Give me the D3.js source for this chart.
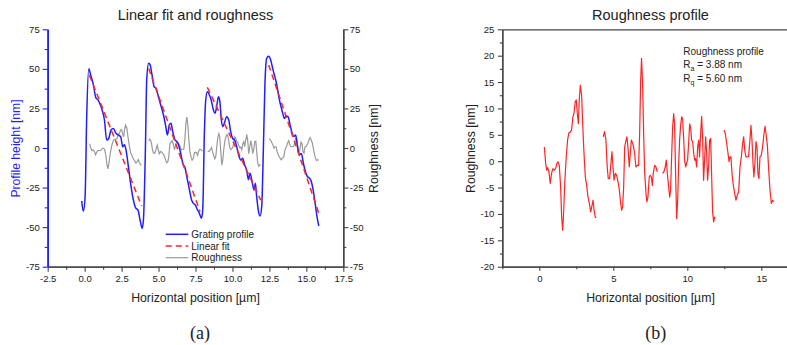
<!DOCTYPE html>
<html>
<head>
<meta charset="utf-8">
<script src="https://cdn.jsdelivr.net/npm/d3@7"></script>
<style>
  body { margin: 0; background: #fff; }
  svg { display: block; }
  text { font-family: "Liberation Sans", Arial, sans-serif; fill: #222; }
</style>
</head>
<body>
<svg id="chart" width="787" height="345"></svg>
<script>
// ---- Data -------------------------------------------------------------
// Measured grating profile: [horizontal position (µm), height (nm)]
const gratingProfile = [
  [-0.2,-33.5],[-0.09,-40],[0.03,-31],[0.14,20],[0.28,50],[0.41,46],[0.59,40],[0.75,32],[0.93,30],
  [1.15,25],[1.34,17.7],[1.49,5],[1.63,6],[1.78,11.4],[1.94,12.4],[2.12,9.3],[2.28,8.2],[2.44,7],
  [2.58,0.8],[2.69,2],[2.8,-1.3],[2.96,-11.8],[3.14,-24.4],[3.3,-33],[3.46,-38],[3.6,-39],[3.75,-45.5],
  [3.89,-50.8],[3.98,-45],[4.11,-1],[4.2,43],[4.33,53.5],[4.43,52.5],[4.56,46],[4.7,38.8],[4.83,37.7],
  [4.99,32.4],[5.15,27],[5.33,21],[5.49,13.5],[5.6,8.2],[5.73,14.5],[5.84,15.6],[5.96,10.3],[6.12,5],
  [6.25,4],[6.39,0.8],[6.5,-3.4],[6.64,-9.7],[6.8,-12.8],[6.95,-20],[7.09,-26.5],[7.24,-33],[7.36,-35],
  [7.49,-36],[7.63,-39],[7.76,-41.3],[7.9,-44.4],[7.99,-39],[8.1,9],[8.19,30],[8.3,35.6],[8.44,33.5],
  [8.57,30],[8.71,24],[8.82,22],[8.93,26],[9.05,32.4],[9.14,30],[9.25,17.7],[9.34,13.5],[9.45,15.6],
  [9.61,19.8],[9.75,17.7],[9.88,10.3],[10.02,6],[10.15,5],[10.29,0.8],[10.42,-4.4],[10.56,-7.6],
  [10.69,-6.5],[10.83,-10.7],[10.96,-13.9],[11.08,-20],[11.19,-16],[11.33,-21.3],[11.46,-26.5],
  [11.55,-22.3],[11.64,-30.8],[11.76,-40],[11.87,-43],[11.98,-37],[12.09,-1.3],[12.2,41],[12.32,56.7],
  [12.45,58],[12.59,55.6],[12.72,50.3],[12.84,46],[12.95,42],[13.06,36.7],[13.18,30.3],[13.29,26],
  [13.4,22],[13.52,18.7],[13.63,20.2],[13.76,19.8],[13.88,15.6],[14.01,10.3],[14.15,7.2],[14.28,8.2],
  [14.4,0.8],[14.53,-4.4],[14.66,-3.4],[14.8,-9.7],[14.94,-15],[15.07,-18],[15.2,-19],[15.34,-21.3],
  [15.48,-27.6],[15.61,-36],[15.72,-43.4],[15.84,-49.3]
];

// Linear fit of each grating facet: start and end points
const linearFit = [
  [[0.32,46],[3.86,-36.7]],
  [[4.33,50.3],[7.81,-40.2]],
  [[8.3,38.3],[11.91,-32.9]],
  [[12.45,52.5],[15.88,-42.3]]
];

// Roughness (profile minus linear fit), one array per facet
const roughness1 = [
  [0.34,2.7],[0.43,-0.4],[0.5,-1.7],[0.56,-1.2],[0.65,-2],[0.74,-4.2],[0.83,-2.3],[0.92,-1.4],[1.01,-1.7],
  [1.1,-1.4],[1.19,-0.4],[1.26,-0.1],[1.35,-0.8],[1.44,-4.9],[1.51,-10.6],[1.58,-13.1],[1.64,-9.9],
  [1.73,-3.6],[1.82,0.8],[1.91,4],[2,5.4],[2.09,5.5],[2.18,5.9],[2.27,8.4],[2.34,9],[2.43,11.3],
  [2.5,11.6],[2.57,9],[2.64,7.1],[2.7,11.6],[2.77,14.4],[2.86,12.5],[2.93,7.1],[3.02,1.5],[3.11,-3],
  [3.2,-4.6],[3.29,-6.8],[3.38,-8],[3.47,-9.6],[3.54,-8.7],[3.63,-7.4],[3.69,-9],[3.78,-10.6],[3.85,-10.7]
];
const roughness2 = [
  [4.32,4.6],[4.41,5.6],[4.5,4],[4.59,-1.1],[4.66,-3.3],[4.75,-3.3],[4.84,-0.4],[4.91,1.8],[4.98,-1.1],
  [5.05,-3.6],[5.14,-2.3],[5.23,-2.7],[5.32,-3.9],[5.41,-5.5],[5.5,-8],[5.56,-9.3],[5.63,-8.7],[5.7,-4.9],
  [5.77,2.7],[5.86,4],[5.92,4.6],[5.99,2.7],[6.08,-1.1],[6.15,1.5],[6.22,4],[6.31,3.4],[6.37,2.7],
  [6.44,1.5],[6.53,-1.1],[6.62,-0.8],[6.71,-0.8],[6.78,5.2],[6.85,15.4],[6.91,19.5],[6.98,14.7],
  [7.05,5.2],[7.12,-2.3],[7.21,-6.1],[7.27,-7.7],[7.34,-6.8],[7.43,-3],[7.5,-2.7],[7.57,-3],[7.64,-4.6],
  [7.7,-2.3],[7.79,-0.8],[7.88,-1.1],[7.97,-2]
];
const roughness3 = [
  [8.33,-2.3],[8.42,-2],[8.51,-1.1],[8.58,0.2],[8.65,-2.3],[8.74,-4.9],[8.81,-6.8],[8.87,-5.5],[8.94,0.8],
  [9.01,6.5],[9.08,9],[9.14,7.1],[9.21,-2.3],[9.28,-10.9],[9.35,-7.4],[9.41,-1.1],[9.48,4],[9.55,6.8],
  [9.62,8.4],[9.68,8.1],[9.75,4.6],[9.82,0.2],[9.89,-1.1],[9.95,-0.4],[10.02,0.2],[10.09,3.4],[10.16,7.1],
  [10.23,6.2],[10.29,4],[10.36,3.7],[10.43,1.5],[10.5,0.2],[10.56,0.5],[10.63,-1.1],[10.7,2.7],[10.77,4],
  [10.83,0.8],[10.9,5.2],[10.97,8.5],[11.04,4],[11.1,-3.6],[11.17,0.2],[11.24,4.6],[11.31,1.5],
  [11.37,-3.6],[11.44,-1.1],[11.51,4],[11.58,4.3],[11.64,-2.3],[11.71,-9.6],[11.78,-11.5],[11.85,-10.6],
  [11.89,-10.7]
];
const roughness4 = [
  [12.48,5.9],[12.57,5.2],[12.66,3.4],[12.75,1.5],[12.82,-0.1],[12.88,0.8],[12.95,0.8],[13.02,-2.3],
  [13.11,-4.6],[13.2,-6.1],[13.29,-7.4],[13.38,-6.4],[13.47,-5.8],[13.56,-1.1],[13.65,0.8],[13.74,3.4],
  [13.81,4.6],[13.88,2.1],[13.96,0.8],[14.05,0.8],[14.14,0.9],[14.23,4],[14.3,6.8],[14.37,4],[14.44,-0.4],
  [14.5,-3],[14.57,-0.4],[14.64,3.7],[14.71,2.7],[14.77,-2.3],[14.84,-3.3],[14.91,0.8],[15,1.1],
  [15.09,2.7],[15.18,5.2],[15.25,6.6],[15.32,5.2],[15.41,3],[15.5,-1.7],[15.59,-5.5],[15.68,-8],
  [15.77,-7.4],[15.83,-7.7]
];
const roughnessSegments = [roughness1, roughness2, roughness3, roughness4];

// Tick values
const leftXMajor = d3.range(-2.5, 17.51, 2.5);
const leftXMinor = d3.range(-1.25, 17.5, 2.5);
const leftYMajor = d3.range(-75, 75.1, 25);
const leftYMinor = d3.range(-62.5, 75, 25);
const rightXMajor = [0, 5, 10, 15];
const rightXMinor = [-2.5, 2.5, 7.5, 12.5, 17.5];
const rightYMajor = d3.range(-20, 25.1, 5);
const rightYMinor = d3.range(-17.5, 25, 5);

const legendItems = ["Grating profile", "Linear fit", "Roughness"];
const roughnessStats = { Ra: "3.88 nm", Rq: "5.60 nm" };

// ---- Drawing ----------------------------------------------------------
const BLUE = "#1f1fff", RED = "#ff2424", GREY = "#9a9a9a", AXIS = "#444";
const svg = d3.select("#chart");

function drawAxis(g, axis, color, fontSize, fontColor) {
  g.call(axis);
  g.selectAll("path.domain").attr("stroke", color).attr("stroke-width", 1.3);
  g.selectAll(".tick line").attr("stroke", color).attr("stroke-width", 1.1);
  g.selectAll(".tick text")
    .attr("fill", fontColor)
    .style("font-size", fontSize + "px")
    .style("font-family", '"Liberation Sans", Arial, sans-serif');
}

// ===== Panel (a): Linear fit and roughness =====
const xL = d3.scaleLinear([-2.5, 17.5], [47.7, 343.3]);
const yL = d3.scaleLinear([-75, 75], [266.7, 29.3]);
const yR = d3.scaleLinear([-75, 75], [266.7, 29.3]);
const pa = svg.append("g");

const line = (xs, ys) => d3.line().x(d => xs(d[0])).y(d => ys(d[1]));

// roughness (grey, right axis)
roughnessSegments.forEach(seg => {
  pa.append("path").datum(seg).attr("d", line(xL, yR))
    .attr("fill", "none").attr("stroke", GREY).attr("stroke-width", 1.2);
});
// grating profile
pa.append("path").datum(gratingProfile).attr("d", line(xL, yL).curve(d3.curveMonotoneX))
  .attr("fill", "none").attr("stroke", BLUE).attr("stroke-width", 1.5).attr("stroke-linejoin", "round");
// linear fits
linearFit.forEach(seg => {
  pa.append("path").datum(seg).attr("d", line(xL, yL))
    .attr("fill", "none").attr("stroke", RED).attr("stroke-width", 1.5).attr("stroke-dasharray", "6,4");
});

// axes
const fmt1 = d => d.toFixed(1);
drawAxis(pa.append("g").attr("transform", `translate(0,${yL.range()[0]})`),
  d3.axisBottom(xL).tickValues(leftXMinor).tickSize(3).tickFormat("").tickSizeOuter(0), AXIS, 9.5, "#222");
drawAxis(pa.append("g").attr("transform", `translate(0,${yL.range()[0]})`),
  d3.axisBottom(xL).tickValues(leftXMajor).tickSize(5).tickPadding(3.5).tickFormat(fmt1).tickSizeOuter(0), AXIS, 9.5, "#222");
drawAxis(pa.append("g").attr("transform", `translate(${xL.range()[1]},0)`),
  d3.axisRight(yR).tickValues(leftYMinor).tickSize(3).tickFormat("").tickSizeOuter(0), AXIS, 9.5, "#222");
drawAxis(pa.append("g").attr("transform", `translate(${xL.range()[1]},0)`),
  d3.axisRight(yR).tickValues(leftYMajor).tickSize(5).tickPadding(1.5).tickFormat(d => String(d)).tickSizeOuter(0), AXIS, 9.5, "#222");
drawAxis(pa.append("g").attr("transform", `translate(${xL.range()[0]},0)`),
  d3.axisLeft(yL).tickValues(leftYMinor).tickSize(3).tickFormat("").tickSizeOuter(0), BLUE, 9.5, BLUE);
drawAxis(pa.append("g").attr("transform", `translate(${xL.range()[0]},0)`),
  d3.axisLeft(yL).tickValues(leftYMajor).tickSize(5).tickPadding(3).tickFormat(d => String(d)).tickSizeOuter(0), BLUE, 9.5, BLUE);
pa.selectAll("path.domain").filter(function () { return this.getAttribute("stroke") === BLUE; })
  .attr("stroke-width", 1.6);

// titles
pa.append("text").attr("x", 195.5).attr("y", 19.5).attr("text-anchor", "middle")
  .style("font-size", "14.5px").text("Linear fit and roughness");
pa.append("text").attr("x", 195.5).attr("y", 301.5).attr("text-anchor", "middle")
  .style("font-size", "12.3px").text("Horizontal position [µm]");
pa.append("text").attr("transform", "translate(19.5,148.5) rotate(-90)").attr("text-anchor", "middle")
  .style("font-size", "12.2px").style("fill", BLUE).text("Profile height [nm]");
pa.append("text").attr("transform", "translate(377.5,148.5) rotate(-90)").attr("text-anchor", "middle")
  .style("font-size", "12.2px").text("Roughness [nm]");

// legend
const legend = pa.append("g");
const legendStyles = [
  { stroke: BLUE, dash: null, w: 1.5 },
  { stroke: RED, dash: "6,4", w: 1.5 },
  { stroke: GREY, dash: null, w: 1.2 }
];
legendItems.forEach((label, i) => {
  const y = 234.3 + i * 11.7;
  const s = legendStyles[i];
  legend.append("line").attr("x1", 165.7).attr("x2", 188.3).attr("y1", y).attr("y2", y)
    .attr("stroke", s.stroke).attr("stroke-width", s.w).attr("stroke-dasharray", s.dash);
  legend.append("text").attr("x", 191.3).attr("y", y).attr("dy", "0.35em")
    .style("font-size", "10px").text(label);
});

pa.append("text").attr("x", 200).attr("y", 338.5).attr("text-anchor", "middle")
  .style("font-family", '"Liberation Serif", "Times New Roman", serif').style("font-size", "18px").text("(a)");

// ===== Panel (b): Roughness profile =====
const xB = d3.scaleLinear([-2.5, 17.5], [502.3, 798.3]);
const yB = d3.scaleLinear([-20, 25], [266.7, 29.3]);
const pb = svg.append("g");

roughnessSegments.forEach(seg => {
  pb.append("path").datum(seg).attr("d", line(xB, yB))
    .attr("fill", "none").attr("stroke", RED).attr("stroke-width", 1.2).attr("stroke-linejoin", "round");
});

drawAxis(pb.append("g").attr("transform", `translate(0,${yB.range()[0]})`),
  d3.axisBottom(xB).tickValues(rightXMinor).tickSize(2.5).tickFormat("").tickSizeOuter(0), AXIS, 9.5, "#222");
drawAxis(pb.append("g").attr("transform", `translate(0,${yB.range()[0]})`),
  d3.axisBottom(xB).tickValues(rightXMajor).tickSize(4).tickPadding(4.5).tickFormat(d => String(d)).tickSizeOuter(0), AXIS, 9.5, "#222");
drawAxis(pb.append("g").attr("transform", `translate(0,${yB.range()[1]})`),
  d3.axisTop(xB).tickValues([]).tickSizeOuter(0), AXIS, 9.5, "#222");
drawAxis(pb.append("g").attr("transform", `translate(${xB.range()[0]},0)`),
  d3.axisLeft(yB).tickValues(rightYMinor).tickSize(2.5).tickFormat("").tickSizeOuter(0), AXIS, 9.5, "#222");
drawAxis(pb.append("g").attr("transform", `translate(${xB.range()[0]},0)`),
  d3.axisLeft(yB).tickValues(rightYMajor).tickSize(4.5).tickPadding(3.5).tickFormat(d => String(d)).tickSizeOuter(0), AXIS, 9.5, "#222");

pb.append("text").attr("x", 650.5).attr("y", 19.5).attr("text-anchor", "middle")
  .style("font-size", "14.5px").text("Roughness profile");
pb.append("text").attr("x", 650.5).attr("y", 301.5).attr("text-anchor", "middle")
  .style("font-size", "12.3px").text("Horizontal position [µm]");
pb.append("text").attr("transform", "translate(475,148.5) rotate(-90)").attr("text-anchor", "middle")
  .style("font-size", "12.2px").text("Roughness [nm]");

// statistics note
const note = pb.append("g").style("font-size", "10px");
note.append("text").attr("x", 683.3).attr("y", 55.3).text("Roughness profile");
[["a", roughnessStats.Ra, 68.3], ["q", roughnessStats.Rq, 82]].forEach(([sub, val, y]) => {
  const t = note.append("text").attr("x", 683.3).attr("y", y);
  t.append("tspan").text("R");
  t.append("tspan").attr("dy", 2.5).style("font-size", "7px").text(sub);
  t.append("tspan").attr("dy", -2.5).text(" = " + val);
});

pb.append("text").attr("x", 655.7).attr("y", 338.5).attr("text-anchor", "middle")
  .style("font-family", '"Liberation Serif", "Times New Roman", serif').style("font-size", "18px").text("(b)");
</script>
</body>
</html>
